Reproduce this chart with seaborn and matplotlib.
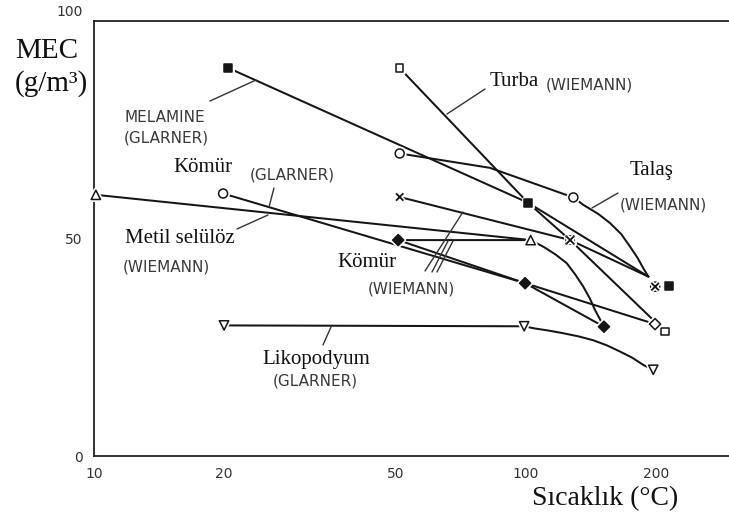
import matplotlib
matplotlib.use("Agg")
import matplotlib.pyplot as plt
import matplotlib.patheffects as pe
import matplotlib.transforms as mtransforms
from matplotlib.lines import Line2D
from matplotlib.ticker import FixedLocator, NullFormatter, NullLocator
import seaborn as sns

# ---------------- data ----------------
# Melamine (GLARNER) - filled squares
mel_line_x = [20.4, 101, 192]
mel_line_y = [89.2, 58.2, 41.2]
mel_mark_x = [20.4, 101, 214]
mel_mark_y = [89.2, 58.2, 39.0]

# Turba (WIEMANN) - open squares
turba_line_x = [51, 101, 126.5, 210]
turba_line_y = [89.1, 58.2, 49.6, 28.6]
turba_mark_x = [51, 126.5, 210]
turba_mark_y = [89.1, 49.6, 28.6]

# Talaş (WIEMANN) - open circles
talas_line_x = [51, 82.5, 128.7, 135.7, 147, 156.5, 166, 174.1, 181, 186.9, 192]
talas_line_y = [69.5, 66.2, 59.4, 57.7, 55.6, 53.5, 51.0, 48.1, 45.6, 43.1, 41.2]
talas_mark_x = [51, 128.7, 199]
talas_mark_y = [69.5, 59.4, 38.9]

# Kömür (WIEMANN) 1 - crosses
k1_line_x = [51, 126.5, 192]
k1_line_y = [59.5, 49.6, 41.2]
k1_mark_x = [51, 126.5, 199]
k1_mark_y = [59.5, 49.6, 38.9]

# Kömür (WIEMANN) 2 - diamonds
k2_line_x = [50.6, 102.5, 110, 117, 124.2, 130, 135.7, 140.5, 144.5, 151.5]
k2_line_y = [49.6, 49.6, 48.0, 46.3, 44.3, 41.7, 38.9, 36.2, 33.5, 29.7]
k2_mark_x = [50.6, 151.5]
k2_mark_y = [49.6, 29.7]

# Kömür (WIEMANN) 3 - diamonds
k3_line_x = [50.6, 99.5, 198.9]
k3_line_y = [49.6, 39.7, 30.3]
k3_mark_x = [99.5]
k3_mark_y = [39.7]
k3_end_x = [198.9]
k3_end_y = [30.3]

# Kömür (GLARNER) - open circle
kg_line_x = [19.9, 99.5, 151.5]
kg_line_y = [60.3, 39.7, 29.7]
kg_mark_x = [19.9]
kg_mark_y = [60.3]

# Metil selülöz (WIEMANN) - open triangles
metil_x = [10.1, 102.5]
metil_y = [60.0, 49.6]

# Likopodyum (GLARNER) - open down triangles
lyco_line_x = [20, 99, 104.8, 113, 122, 132, 143, 154, 165, 176, 187, 197]
lyco_line_y = [30.0, 29.8, 29.3, 28.8, 28.2, 27.5, 26.6, 25.4, 24.0, 22.6, 20.9, 19.8]
lyco_mark_x = [20, 99, 197]
lyco_mark_y = [30.0, 29.8, 19.8]

x_ticks = [10, 20, 50, 100, 200]
x_tick_labels = ["10", "20", "50", "100", "200"]
x_minor = [30, 40, 60, 70, 80, 90]
y_ticks = list(range(0, 101, 10))
y_tick_labels = ["0", "", "", "", "", "50", "", "", "", "", "100"]

# ---------------- figure ----------------
sns.set_style("white")
plt.rcParams["font.family"] = ["DejaVu Sans"]

W, H = 729, 520
fig = plt.figure(figsize=(W / 100, H / 100), dpi=100)
ax = fig.add_axes([94 / W, 64 / H, 635 / W, 435.3 / H])
ax.set_xscale("log")
ax.set_xlim(10, 295)
ax.set_ylim(0, 100)

LC = "#151515"
halo = [pe.withStroke(linewidth=3.5, foreground="white")]


def draw_line(xs, ys, lw=1.45):
    sns.lineplot(x=xs, y=ys, ax=ax, sort=False, estimator=None,
                 color=LC, lw=lw, zorder=2)


def draw_marks(xs, ys, marker, filled, s):
    if marker == "x":
        sns.scatterplot(x=xs, y=ys, ax=ax, marker="x", s=s, color=LC,
                        linewidth=1.3, zorder=5, clip_on=False)
    else:
        sns.scatterplot(x=xs, y=ys, ax=ax, marker=marker, s=s,
                        color=LC if filled else "white",
                        edgecolor=LC, linewidth=1.1, zorder=4, clip_on=False)
    ax.collections[-1].set_path_effects(halo)


draw_line(mel_line_x, mel_line_y)
draw_line(turba_line_x, turba_line_y)
draw_line(talas_line_x, talas_line_y)
draw_line(k1_line_x, k1_line_y)
draw_line(k2_line_x, k2_line_y)
draw_line(k3_line_x, k3_line_y)
draw_line(kg_line_x, kg_line_y)
draw_line(metil_x, metil_y)
draw_line(lyco_line_x, lyco_line_y)

draw_marks(turba_mark_x, turba_mark_y, "s", False, 30)
draw_marks(talas_mark_x, talas_mark_y, "o", False, 42)
draw_marks(kg_mark_x, kg_mark_y, "o", False, 42)
draw_marks(metil_x, metil_y, "^", False, 45)
draw_marks(lyco_mark_x, lyco_mark_y, "v", False, 45)
draw_marks(k2_mark_x, k2_mark_y, "D", True, 32)
draw_marks(k3_mark_x, k3_mark_y, "D", True, 32)
draw_marks(k3_end_x, k3_end_y, "D", False, 32)
draw_marks(mel_mark_x, mel_mark_y, "s", True, 34)
draw_marks(k1_mark_x, k1_mark_y, "x", True, 28)

ax.set_xlabel("")
ax.set_ylabel("")

# ---------------- axes styling ----------------
ax.set_xticks(x_ticks)
ax.set_xticklabels(x_tick_labels)
ax.xaxis.set_minor_locator(FixedLocator(x_minor))
ax.xaxis.set_minor_formatter(NullFormatter())
ax.tick_params(axis="x", which="major", direction="in", length=8, width=1.1,
               pad=8, labelsize=10, labelcolor="#333", color="#222")
ax.tick_params(axis="x", which="minor", direction="in", length=3.5,
               width=1.1, color="#222")
ax.set_yticks(y_ticks)
ylabels = ax.set_yticklabels(y_tick_labels)
ax.yaxis.set_minor_locator(NullLocator())
ax.tick_params(axis="y", direction="in", length=8.5, width=1.1, pad=8,
               labelsize=10, labelcolor="#333", color="#222")
offset = mtransforms.ScaledTranslation(0, 7 / 72, fig.dpi_scale_trans)
for lbl in ylabels:
    if lbl.get_text() == "100":
        lbl.set_transform(lbl.get_transform() + offset)

for side in ["left", "bottom", "top"]:
    ax.spines[side].set_color("#222")
    ax.spines[side].set_linewidth(1.3)
ax.spines["right"].set_visible(False)


# ---------------- annotations ----------------
def fx(px):
    return px / W


def fy(py):
    return 1 - py / H


SERIF = ["Liberation Serif", "DejaVu Serif"]
SANS = ["DejaVu Sans"]


def serif(txt, x, y, size=15):
    fig.text(fx(x), fy(y), txt, family=SERIF, fontsize=size, color="#111",
             ha="left", va="baseline")


def sans(txt, x, y, size=11):
    fig.text(fx(x), fy(y), txt, family=SANS, fontsize=size, color="#3a3a3a",
             ha="left", va="baseline")


serif("MEC", 15, 58, 21)
serif("(g/m³)", 15, 91, 21)
serif("Sıcaklık (°C)", 532, 505, 20)

sans("MELAMINE", 125, 121.7)
sans("(GLARNER)", 124, 142.7)
serif("Kömür", 173, 172)
sans("(GLARNER)", 250, 179)
serif("Metil selülöz", 125, 242.7)
sans("(WIEMANN)", 123, 271.7)
serif("Kömür", 337, 267)
sans("(WIEMANN)", 368, 293.3)
serif("Turba", 490, 86)
sans("(WIEMANN)", 546, 90)
serif("Talaş", 630, 175)
sans("(WIEMANN)", 620, 210)
serif("Likopodyum", 262, 364)
sans("(GLARNER)", 273, 386)

pointers = [
    ((210, 101), (256, 80)),
    ((274, 188), (269, 207)),
    ((237, 229), (268, 215)),
    ((485, 89), (447, 114)),
    ((618, 193), (592, 208)),
    ((425, 271), (463, 212)),
    ((432, 272), (448, 241)),
    ((437, 272), (453, 241)),
    ((331, 327), (323, 345)),
]
for (x0, y0), (x1, y1) in pointers:
    fig.add_artist(Line2D([fx(x0), fx(x1)], [fy(y0), fy(y1)],
                          transform=fig.transFigure, color="#333", lw=1.0))

fig.savefig("out.png", dpi=100)
